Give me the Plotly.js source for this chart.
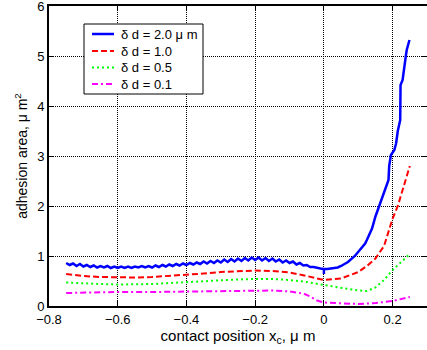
<!DOCTYPE html>
<html><head><meta charset="utf-8">
<script src="https://cdn.plot.ly/plotly-3.0.1.min.js"></script>
<style>html,body{margin:0;padding:0;background:#fff}#c{width:427px;height:350px}</style>
</head><body><div id="c"></div>
<script>
const names = ["\u03b4 d = 2.0 \u03bc m", "\u03b4 d = 1.0", "\u03b4 d = 0.5", "\u03b4 d = 0.1"];
const colors = ['#0000ff', '#ff0000', '#00ff00', '#ff00ff'];
const dashes = ['solid', '6px,3px', '2px,3px', '6px,3px,2px,3px'];
const x20 = [-0.75,-0.74,-0.73,-0.72,-0.71,-0.70,-0.69,-0.68,-0.67,-0.66,-0.65,-0.64,-0.63,-0.62,-0.61,-0.60,-0.59,-0.58,-0.57,-0.56,-0.55,-0.54,-0.53,-0.52,-0.51,-0.50,-0.49,-0.48,-0.47,-0.46,-0.45,-0.44,-0.43,-0.42,-0.41,-0.40,-0.39,-0.38,-0.37,-0.36,-0.35,-0.34,-0.33,-0.32,-0.31,-0.30,-0.29,-0.28,-0.27,-0.26,-0.25,-0.24,-0.23,-0.22,-0.21,-0.20,-0.19,-0.18,-0.17,-0.16,-0.15,-0.14,-0.13,-0.12,-0.11,-0.10,-0.09,-0.08,-0.07,-0.06,-0.05,-0.04,-0.03,-0.02,-0.01,0.00,0.00,0.00,0.01,0.02,0.03,0.04,0.05,0.07,0.09,0.10,0.11,0.12,0.125,0.13,0.14,0.15,0.16,0.165,0.17,0.18,0.188,0.19,0.195,0.205,0.21,0.215,0.222,0.223,0.229,0.238,0.241,0.249];
const y20 = [0.86,0.82,0.85,0.80,0.84,0.79,0.82,0.78,0.81,0.77,0.80,0.77,0.80,0.76,0.79,0.76,0.79,0.76,0.79,0.76,0.79,0.77,0.80,0.77,0.80,0.77,0.81,0.78,0.82,0.79,0.83,0.80,0.84,0.81,0.85,0.82,0.86,0.83,0.87,0.84,0.89,0.85,0.90,0.86,0.91,0.87,0.93,0.88,0.94,0.89,0.95,0.90,0.96,0.91,0.97,0.92,0.97,0.91,0.96,0.90,0.95,0.89,0.93,0.87,0.91,0.86,0.89,0.83,0.86,0.81,0.82,0.78,0.78,0.76,0.75,0.74,0.64,0.74,0.74,0.75,0.76,0.77,0.80,0.88,1.00,1.08,1.16,1.25,1.32,1.40,1.55,1.79,1.98,2.09,2.20,2.36,2.52,2.80,3.02,3.12,3.25,3.50,3.72,4.42,4.52,4.98,5.12,5.32];
const x10 = [-0.75,-0.70,-0.65,-0.60,-0.55,-0.50,-0.45,-0.40,-0.35,-0.30,-0.25,-0.20,-0.15,-0.10,-0.05,0.00,0.05,0.10,0.125,0.15,0.175,0.19,0.20,0.215,0.23,0.25];
const y10 = [0.64,0.60,0.58,0.57,0.57,0.58,0.60,0.62,0.65,0.68,0.70,0.71,0.70,0.67,0.60,0.52,0.55,0.68,0.80,0.95,1.20,1.52,1.75,2.00,2.35,2.80];
const x05 = [-0.75,-0.70,-0.65,-0.60,-0.55,-0.50,-0.45,-0.40,-0.35,-0.30,-0.25,-0.20,-0.15,-0.10,-0.05,0.00,0.05,0.10,0.125,0.15,0.175,0.20,0.225,0.25];
const y05 = [0.47,0.45,0.44,0.43,0.43,0.44,0.46,0.48,0.50,0.52,0.53,0.54,0.54,0.52,0.48,0.42,0.36,0.31,0.30,0.37,0.52,0.72,0.88,1.04];
const x01 = [-0.75,-0.70,-0.60,-0.50,-0.40,-0.30,-0.20,-0.15,-0.10,-0.06,-0.04,-0.02,0.00,0.05,0.10,0.15,0.20,0.25];
const y01 = [0.26,0.27,0.28,0.28,0.29,0.30,0.31,0.31,0.29,0.25,0.19,0.11,0.07,0.05,0.04,0.06,0.10,0.18];
const xs = [x20, x10, x05, x01];
const ys = [y20, y10, y05, y01];

const widths = [2.5, 2, 2, 2];
const traces = xs.map((x, i) => ({x: x, y: ys[i], name: names[i], mode: 'lines', showlegend: false,
  line: {color: colors[i], width: widths[i], dash: dashes[i]}}));

const fam = 'Liberation Sans, Arial, sans-serif';
const font = {family: fam, size: 13, color: '#000'};
const axisCommon = {
  showline: true, linecolor: '#000', linewidth: 2, mirror: 'ticks',
  ticks: 'inside', ticklen: 5, tickcolor: '#000', tickwidth: 1,
  showgrid: true, gridcolor: '#000', griddash: '1px,1px', gridwidth: 1,
  zeroline: false, tickfont: font, ticklabeloverflow: 'allow'
};

// legend drawn in paper coordinates (plot area: x 49..427, y 6..306 px)
const L = 49, W = 378, T = 6, H = 300;
const px = v => (v - L) / W, py = v => (306 - v) / H;
const shapes = [{type: 'rect', xref: 'paper', yref: 'paper', x0: px(84), x1: px(203), y0: py(94), y1: py(24),
  line: {color: '#000', width: 1}, fillcolor: '#fff', layer: 'above'}];
const annotations = [];
const rowY = [34, 51, 67.5, 84];
names.forEach((n, i) => {
  shapes.push({type: 'line', xref: 'paper', yref: 'paper', x0: px(92), x1: px(114), y0: py(rowY[i]), y1: py(rowY[i]),
    line: {color: colors[i], width: widths[i], dash: dashes[i]}, layer: 'above'});
  annotations.push({xref: 'paper', yref: 'paper', x: px(119), y: py(rowY[i]), xanchor: 'left', yanchor: 'middle',
    text: n, showarrow: false, font: {family: fam, size: 13, color: '#000'}});
});

const layout = {
  width: 427, height: 350,
  margin: {l: 49, r: 0, t: 6, b: 44},
  paper_bgcolor: '#fff', plot_bgcolor: '#fff',
  font: font, showlegend: false,
  shapes: shapes, annotations: annotations,
  xaxis: Object.assign({}, axisCommon, {range: [-0.8, 0.3], tick0: -0.8, dtick: 0.2,
    title: {text: 'contact position x<sub>c</sub>, \u03bc m', font: {family: fam, size: 15, color: '#000'}, standoff: 2}}),
  yaxis: Object.assign({}, axisCommon, {range: [0, 6], tickvals: [0, 1, 2, 3, 4, 5, 6],
    title: {text: 'adhesion area, \u03bc m<sup>2</sup>', font: {family: fam, size: 14, color: '#000'}, standoff: 6}})
};
Plotly.newPlot('c', traces, layout, {staticPlot: true, displayModeBar: false});
</script></body></html>
